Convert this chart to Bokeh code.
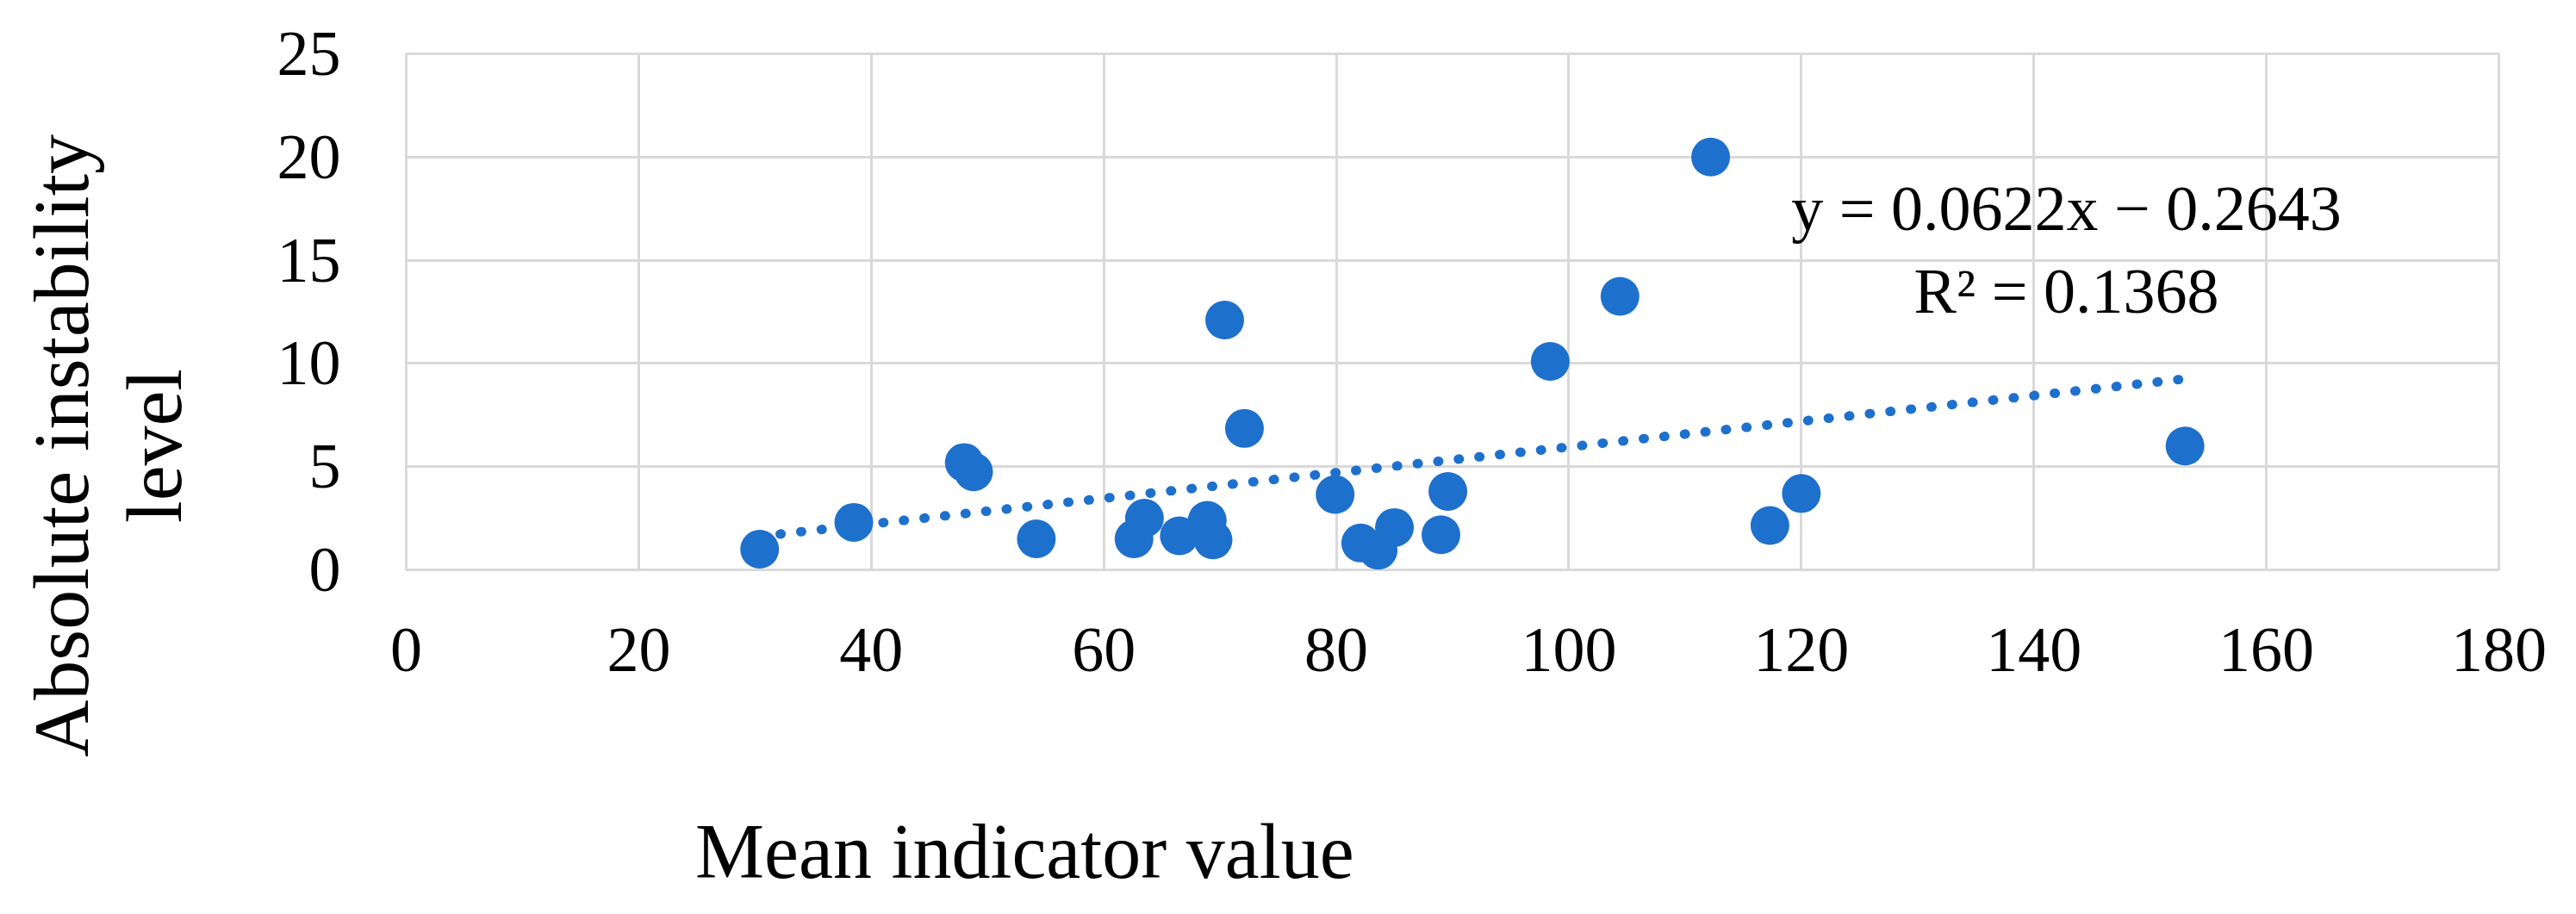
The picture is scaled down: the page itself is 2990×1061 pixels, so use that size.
import math
from bokeh.plotting import figure
from bokeh.models import Label, Range1d, FixedTicker, ColumnDataSource
from bokeh.layouts import row, column
from bokeh.embed import file_html
from bokeh.resources import INLINE

# ---- data ----
mean_indicator = [30.4, 38.5, 48.0, 48.8, 54.2, 62.6, 63.5, 66.5, 68.9, 69.4,
                  70.4, 72.1, 79.9, 82.1, 83.6, 85.0, 89.0, 89.6, 98.4, 104.4,
                  112.2, 117.3, 120.0, 153.0]
instability = [1.0, 2.3, 5.2, 4.75, 1.5, 1.5, 2.5, 1.65, 2.4, 1.45,
               12.1, 6.85, 3.65, 1.3, 0.95, 2.05, 1.7, 3.8, 10.1, 13.25,
               20.0, 2.15, 3.7, 6.0]
trend_slope = 0.0622
trend_intercept = -0.2643
r_squared = 0.1368
x_ticks = [0, 20, 40, 60, 80, 100, 120, 140, 160, 180]
y_ticks = [0, 5, 10, 15, 20, 25]
x_title = "Mean indicator value"
y_title_lines = ["Absolute instability", "level"]

BLUE = "#1E70CD"
GRID = "#D9D9D9"
FONT = "Liberation Serif"

TOTAL_W, TOTAL_H = 2974, 1053
LEFT_W = 250          # strip holding the y-axis title
MAIN_H = 940          # main chart height
BOTTOM_H = TOTAL_H - MAIN_H


def bare(width, height, xr, yr):
    f = figure(width=width, height=height, x_range=xr, y_range=yr,
               output_backend="svg", toolbar_location=None,
               x_axis_location=None, y_axis_location=None,
               min_border_left=0, min_border_right=0,
               min_border_top=0, min_border_bottom=0)
    f.grid.visible = False
    f.outline_line_color = None
    f.background_fill_color = "white"
    f.border_fill_color = "white"
    return f


# ---- main chart ----
p = figure(width=TOTAL_W - LEFT_W, height=MAIN_H,
           x_range=Range1d(0, 180), y_range=Range1d(0, 25),
           output_backend="svg", toolbar_location=None,
           min_border_left=221, min_border_right=74,
           min_border_top=62, min_border_bottom=279)

p.background_fill_color = "white"
p.border_fill_color = "white"
p.outline_line_color = GRID
p.outline_line_width = 3

for ax in (p.xaxis, p.yaxis):
    ax.axis_line_color = None
    ax.major_tick_line_color = None
    ax.minor_tick_line_color = None
    ax.major_tick_out = 0
    ax.major_tick_in = 0
    ax.major_label_text_font = FONT
    ax.major_label_text_font_size = "74px"
    ax.major_label_text_color = "black"
p.xaxis.ticker = FixedTicker(ticks=x_ticks)
p.yaxis.ticker = FixedTicker(ticks=y_ticks)
p.xaxis.major_label_standoff = 68
p.yaxis.major_label_standoff = 76

p.xgrid.ticker = FixedTicker(ticks=x_ticks)
p.ygrid.ticker = FixedTicker(ticks=y_ticks)
p.grid.grid_line_color = GRID
p.grid.grid_line_width = 3

# trendline over the data extent
x0, x1 = min(mean_indicator), max(mean_indicator)
trend_x = [x0, x1]
trend_y = [trend_slope * v + trend_intercept for v in trend_x]
p.line(trend_x, trend_y, line_color=BLUE, line_width=11,
       line_dash="1 23", line_cap="round")

src = ColumnDataSource(dict(x=mean_indicator, y=instability))
p.scatter("x", "y", source=src, size=45, fill_color=BLUE, line_color=None)

# equation labels
sign = "\u2212" if trend_intercept < 0 else "+"
eq = f"y = {trend_slope:.4f}x {sign} {abs(trend_intercept):.4f}"
r2 = f"R\u00b2 = {r_squared:.4f}"
p.add_layout(Label(x=142.8, y=17.5, text=eq, text_font=FONT,
                   text_font_size="74px", text_align="center",
                   text_baseline="alphabetic", text_color="black"))
p.add_layout(Label(x=142.8, y=13.5, text=r2, text_font=FONT,
                   text_font_size="74px", text_align="center",
                   text_baseline="alphabetic", text_color="black"))

# ---- y-axis title strip (page-pixel coordinates, y downward) ----
left = bare(LEFT_W, TOTAL_H, Range1d(0, LEFT_W), Range1d(TOTAL_H, 0))
left.add_layout(Label(x=70, y=517, text=y_title_lines[0], text_font=FONT,
                      text_font_size="92px", angle=math.pi / 2,
                      text_align="center", text_baseline="alphabetic",
                      text_color="black"))
left.add_layout(Label(x=178, y=517, text=y_title_lines[1], text_font=FONT,
                      text_font_size="92px", angle=math.pi / 2,
                      text_align="center", text_baseline="alphabetic",
                      text_color="black"))

# ---- x-axis title strip ----
bottom = bare(TOTAL_W - LEFT_W, BOTTOM_H, Range1d(LEFT_W, TOTAL_W),
              Range1d(TOTAL_H, MAIN_H))
bottom.add_layout(Label(x=1055, y=988, text=x_title, text_font=FONT,
                        text_font_size="90px", text_align="center",
                        text_baseline="alphabetic", text_color="black"))

layout = row(left, column(p, bottom, spacing=0), spacing=0)
open("out.html", "w").write(file_html(layout, INLINE))
